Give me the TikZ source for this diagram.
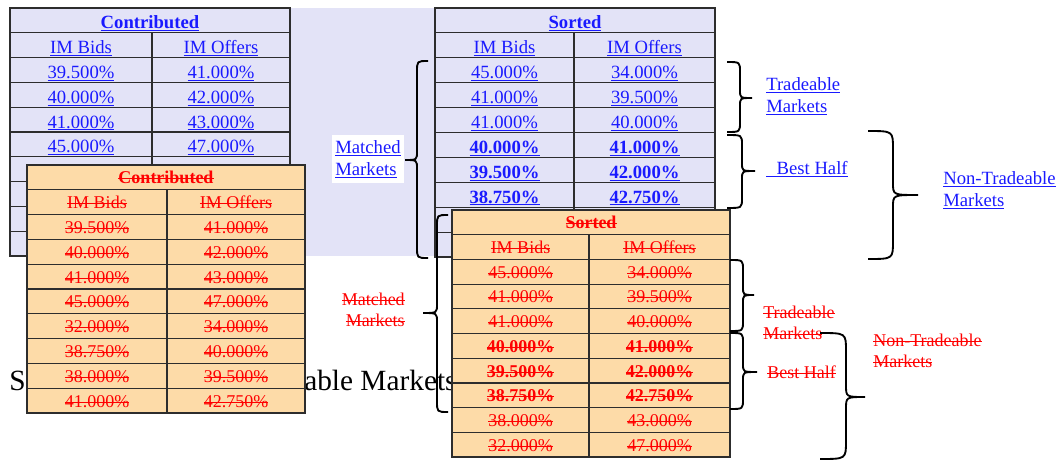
\documentclass[tikz,border=0pt]{standalone}
\usepackage{fontspec}
\setmainfont{Liberation Serif}
\definecolor{lav}{RGB}{227,227,247}
\definecolor{peach}{RGB}{253,219,168}
\definecolor{lnkblue}{RGB}{26,26,255}
\definecolor{delred}{RGB}{255,0,0}
\definecolor{gridc}{RGB}{45,45,45}
\newcommand\ulin[1]{\setbox0\hbox{#1}\rlap{\rule[-0.12em]{\wd0}{0.75pt}}\box0}
\newcommand\strk[1]{\setbox0\hbox{#1}\rlap{\rule[0.25em]{\wd0}{0.75pt}}\box0}
% #1 x0, #2 xmid, #3 x1, #4 y0, #5 row height, #6 fill
\newcommand\gridtab[6]{%
  \fill[#6] (#1,#4) rectangle (#3,{#4+10*#5});
  \foreach \i in {1,...,9}{\draw[gridline] (#1,{#4+\i*#5}) -- (#3,{#4+\i*#5});}
  \draw[gridline] (#2,{#4+#5}) -- (#2,{#4+10*#5});
  \draw[gridline] (#1,#4) rectangle (#3,{#4+10*#5});
}
% #1 x end, #2 x spine, #3 x tip, #4 y top, #5 y tip, #6 y bottom, #7 end radius, #8 tip radius, #9 style
\newcommand\curlyb[9]{%
  \draw[#9] (#1,#4) .. controls (#2,#4) .. (#2,{#4+#7}) -- (#2,{#5-#8})
    .. controls (#2,#5) .. (#3,#5) .. controls (#2,#5) .. (#2,{#5+#8})
    -- (#2,{#6-#7}) .. controls (#2,#6) .. (#1,#6);
}
\begin{document}
\begin{tikzpicture}[x=0.75pt,y=-0.75pt,
  gridline/.style={draw=gridc,line width=0.9pt},
  bracepen/.style={draw=black,line width=1.4pt},
  btxt/.style={text=lnkblue,font=\fontsize{14}{16}\selectfont,anchor=base,inner sep=0pt},
  rtxt/.style={text=delred,font=\fontsize{13.5}{16}\selectfont,anchor=base,inner sep=0pt},
  blbl/.style={text=lnkblue,font=\fontsize{14}{16.5}\selectfont,align=left,inner sep=0pt},
  rlbl/.style={text=delred,font=\fontsize{13.5}{15.5}\selectfont,inner sep=0pt},
  bigtxt/.style={font=\fontsize{22}{26}\selectfont,anchor=base west,inner sep=0pt}]
\useasboundingbox (0,0) rectangle (1060,460);
% lavender background
\fill[lav] (10,8) rectangle (715,256);
% ---------- blue tables ----------
\gridtab{10}{152}{290}{8}{24.8}{lav}
\gridtab{435}{574}{715}{8}{24.9}{lav}
\node[btxt] (bc-t) at (150,28.9) {\bfseries\ulin{Contributed}};
\node[btxt] (bc-ha) at (81,53.7) {\ulin{IM Bids}};
\node[btxt] (bc-hb) at (221,53.7) {\ulin{IM Offers}};
\foreach \k/\a/\b in {1/39.500/41.000,2/40.000/42.000,3/41.000/43.000,4/45.000/47.000}{
  \node[btxt] (bc-\k a) at (81,{8+(\k+1.5)*24.8+8.5}) {\ulin{\a\%}};
  \node[btxt] (bc-\k b) at (221,{8+(\k+1.5)*24.8+8.5}) {\ulin{\b\%}};
}
\node[btxt] (bs-t) at (575,28.9) {\bfseries\ulin{Sorted}};
\node[btxt] (bs-ha) at (504.5,53.8) {\ulin{IM Bids}};
\node[btxt] (bs-hb) at (644.5,53.8) {\ulin{IM Offers}};
\foreach \k/\a/\b/\f in {1/45.000/34.000/\mdseries,2/41.000/39.500/\mdseries,3/41.000/40.000/\mdseries,
  4/40.000/41.000/\bfseries,5/39.500/42.000/\bfseries,6/38.750/42.750/\bfseries}{
  \node[btxt] (bs-\k a) at (504.5,{8+(\k+1.5)*24.9+8.5}) {\f\ulin{\a\%}};
  \node[btxt] (bs-\k b) at (644.5,{8+(\k+1.5)*24.9+8.5}) {\f\ulin{\b\%}};
}
% blue labels
\node[blbl,fill=white,minimum width=54pt,minimum height=36pt] (bmm) at (368,159) {\ulin{Matched}\\\ulin{Markets}};
\node[blbl,anchor=west] (btm) at (766,96) {\ulin{Tradeable}\\\ulin{Markets}};
\node[blbl,anchor=west] (bbh) at (766,169) {\ulin{\phantom{ii}Best Half}};
\node[blbl,anchor=west] (bnt) at (943,190) {\ulin{Non-Tradeable}\\\ulin{Markets}};
% blue braces
\curlyb{428}{417}{405}{61}{160}{258}{11}{9}{bracepen}
\curlyb{727}{740}{752}{62}{98}{132}{10}{8}{bracepen}
\curlyb{727}{742}{755}{135}{171}{208}{10}{8}{bracepen}
\curlyb{868}{893}{918}{131}{195}{259}{18}{12}{bracepen}
% big black text
\node[bigtxt] (big1) at (9,390) {S};
\node[bigtxt] (big2) at (304,390) {able Markets};
% ---------- orange tables ----------
\gridtab{27}{167}{305}{165}{24.8}{peach}
\gridtab{452}{589}{730}{210}{24.7}{peach}
\node[rtxt] (oc-t) at (166,{165+12.4+6.5}) {\bfseries\strk{Contributed}};
\node[rtxt] (oc-ha) at (97,{165+1.5*24.8+6.5}) {\strk{IM Bids}};
\node[rtxt] (oc-hb) at (236,{165+1.5*24.8+6.5}) {\strk{IM Offers}};
\foreach \k/\a/\b in {1/39.500/41.000,2/40.000/42.000,3/41.000/43.000,4/45.000/47.000,
  5/32.000/34.000,6/38.750/40.000,7/38.000/39.500,8/41.000/42.750}{
  \node[rtxt] (oc-\k a) at (97,{165+(\k+1.5)*24.8+6.5}) {\strk{\a\%}};
  \node[rtxt] (oc-\k b) at (236,{165+(\k+1.5)*24.8+6.5}) {\strk{\b\%}};
}
\node[rtxt] (os-t) at (591,{210+12.35+6.5}) {\bfseries\strk{Sorted}};
\node[rtxt] (os-ha) at (520.5,{210+1.5*24.7+6.5}) {\strk{IM Bids}};
\node[rtxt] (os-hb) at (659.5,{210+1.5*24.7+6.5}) {\strk{IM Offers}};
\foreach \k/\a/\b/\f in {1/45.000/34.000/\mdseries,2/41.000/39.500/\mdseries,3/41.000/40.000/\mdseries,
  4/40.000/41.000/\bfseries,5/39.500/42.000/\bfseries,6/38.750/42.750/\bfseries,
  7/38.000/43.000/\mdseries,8/32.000/47.000/\mdseries}{
  \node[rtxt] (os-\k a) at (520.5,{210+(\k+1.5)*24.7+6.5}) {\f\strk{\a\%}};
  \node[rtxt] (os-\k b) at (659.5,{210+(\k+1.5)*24.7+6.5}) {\f\strk{\b\%}};
}
% red labels
\node[rlbl,align=right,anchor=east] (rmm) at (405,310) {\strk{Matched}\\\strk{Markets}};
\node[rlbl,align=left,anchor=west] (rtm) at (763,323) {\strk{Tradeable}\\\strk{Markets}};
\node[rlbl,align=left,anchor=west] (rbh) at (767,372) {\strk{Best Half}};
\node[rlbl,align=left,anchor=west] (rnt) at (873,351) {\strk{Non-Tradeable}\\\strk{Markets}};
% red-table braces
\curlyb{448}{437}{423}{215}{313}{412}{11}{9}{bracepen}
\curlyb{730}{743}{754}{260}{295}{331}{10}{8}{bracepen}
\curlyb{730}{743}{757}{333}{372}{409}{10}{8}{bracepen}
\curlyb{820}{846}{865}{333}{397}{459}{18}{12}{bracepen}
\end{tikzpicture}
\end{document}
